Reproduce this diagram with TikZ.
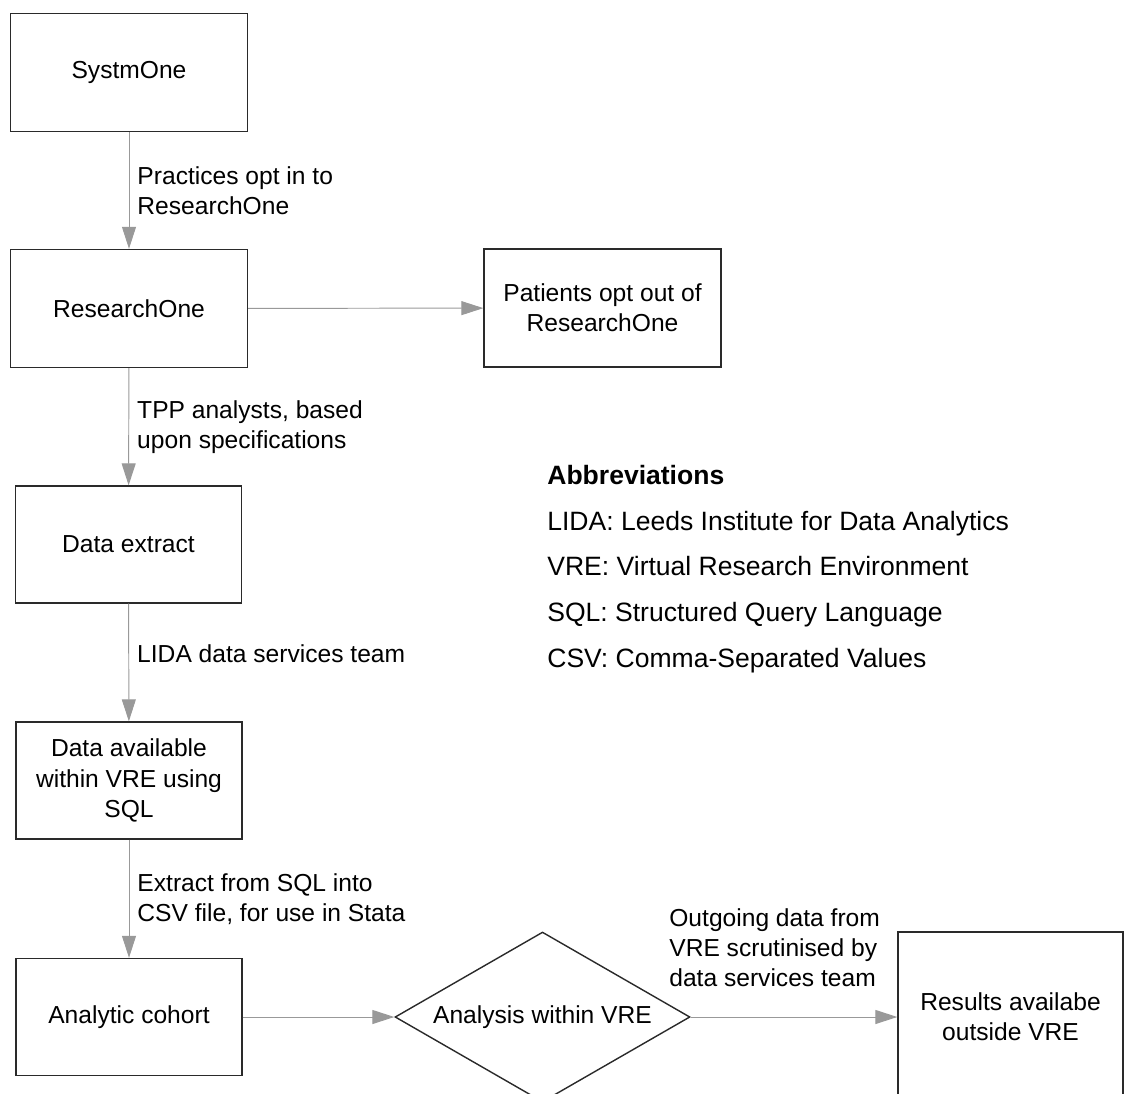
\documentclass[tikz,border=0pt]{standalone}
\usepackage{fontspec}
\setmainfont{Liberation Sans}
\usetikzlibrary{arrows.meta,shapes.geometric}

\definecolor{linegray}{HTML}{999999}
\definecolor{boxline}{HTML}{2A2A2A}

\begin{document}
\begin{tikzpicture}[x=0.02cm,y=-0.02cm,
  >={Triangle[length=0.44cm,width=0.28cm]},
  box/.style={draw=boxline,line width=0.8pt,align=center,inner sep=2pt,
    font=\fontsize{14pt}{17.3pt}\selectfont},
  bigbox/.style={box,minimum width=4.74cm,minimum height=2.36cm},
  smallbox/.style={box,minimum width=4.52cm,minimum height=2.34cm},
  decision/.style={box,diamond,aspect=1.73,inner sep=0pt,minimum width=5.9cm,minimum height=3.4cm},
  lab/.style={align=left,inner sep=0pt,font=\fontsize{14pt}{17pt}\selectfont},
  arr/.style={->,draw=linegray,fill=linegray,line width=0.55pt}]
  \useasboundingbox (0,0) rectangle (1125,1094);
  \node[bigbox] (sys) at (129, 72.5) {SystmOne};
  \node[bigbox] (res) at (129, 308.5) {ResearchOne};
  \node[bigbox] (opt) at (602.5, 308) {Patients opt out of\\ResearchOne};
  \node[smallbox] (ext) at (128.5, 544.5) {Data extract};
  \node[smallbox] (avail) at (129, 780.5) {Data available\\within VRE using\\SQL};
  \node[smallbox] (coh) at (129, 1017) {Analytic cohort};
  \node[decision] (ana) at (542.5, 1017) {Analysis within VRE};
  \node[box,minimum width=4.5cm,minimum height=3.4cm] (resout) at (1010.5, 1017) {Results availabe\\outside VRE};
  \path[arr] (sys) edge node[lab,right=0.16cm] {Practices opt in to\\ResearchOne} (res);
  \path[arr] (res) edge (opt);
  \path[arr] (res) edge node[lab,right=0.16cm] {TPP analysts, based\\upon specifications} (ext);
  \path[arr] (ext) edge node[lab,right=0.16cm,yshift=0.18cm] {LIDA data services team} (avail);
  \path[arr] (avail) edge node[lab,right=0.16cm] {Extract from SQL into\\CSV file, for use in Stata} (coh);
  \path[arr] (coh) edge (ana);
  \path[arr] (ana) edge (resout);
  \node[lab,anchor=west] (outlab) at (669, 948) {Outgoing data from\\VRE scrutinised by\\data services team};
  % abbreviations
  \node[align=left,inner sep=0pt,anchor=west,font=\fontsize{15.1pt}{26pt}\selectfont] (abbr) at (547, 569)
    {\textbf{Abbreviations}\\LIDA: Leeds Institute for Data Analytics\\VRE: Virtual Research Environment\\SQL: Structured Query Language\\CSV: Comma-Separated Values};
\end{tikzpicture}
\end{document}
